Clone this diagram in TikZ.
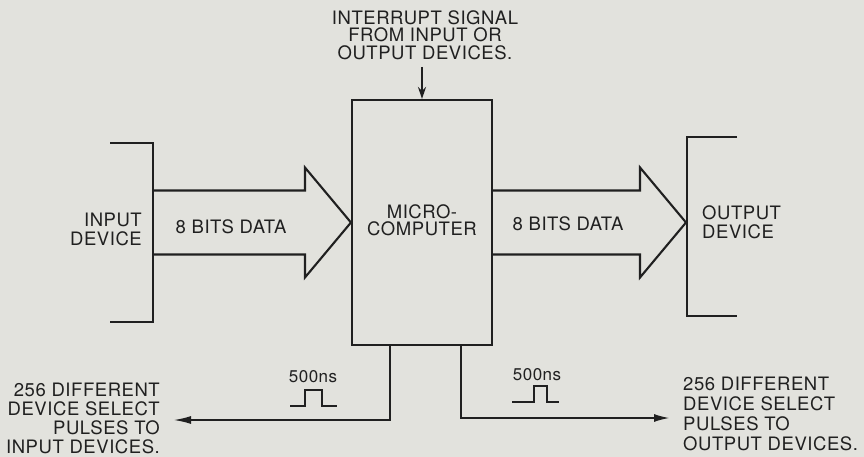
\documentclass[tikz,border=0pt]{standalone}
\usepackage{fontspec}
\setmainfont[LetterSpace=3]{TeX Gyre Heros}
\usetikzlibrary{arrows.meta,calc}
\definecolor{paper}{RGB}{226,226,221}
\definecolor{ink}{RGB}{32,32,32}
\begin{document}
\begin{tikzpicture}[x=1pt,y=-1pt,
  lbl/.style={font=\fontsize{18.5}{19}\selectfont, text=ink, inner sep=0pt},
  toplbl/.style={lbl, font=\fontsize{18.5}{17.5}\selectfont},
  botlbl/.style={lbl, font=\fontsize{18.5}{19}\selectfont},
  botrlbl/.style={lbl, font=\fontsize{18.5}{20}\selectfont},
  nslbl/.style={lbl, font=\fontsize{17}{17}\selectfont},
  wire/.style={draw=ink, line width=2.1pt},
  pulse/.style={draw=ink, line width=1.5pt},
  fat/.style={wire, line join=miter},
  mcbox/.style={draw=ink, line width=2.1pt, minimum width=140pt, minimum height=245pt,
    inner sep=0pt}]
\fill[paper] (0,0) rectangle (864,457);
\useasboundingbox (0,0) rectangle (864,457);

% microcomputer
\node[mcbox] (mc) at (422,222.5) {};
\node[lbl, align=center, font=\fontsize{18.5}{17.5}\selectfont] (mctext) at ($(mc.center)+(0,-2)$) {MICRO-\\COMPUTER};

% interrupt
\node[toplbl, align=center] (intr) at (425,35) {INTERRUPT SIGNAL\\FROM INPUT OR\\OUTPUT DEVICES.};
\coordinate (intrs) at (422,67);
\draw[wire, -{Stealth[length=12pt,width=8pt]}] (intrs) -- (mc.north);

% input device
\draw[wire] (110,143) -| (153,322) -- (110,322);
\coordinate (inb) at (153,222.5);
\node[lbl, align=right, anchor=east] (indev) at (142,229) {INPUT\\DEVICE};
\draw[fat] ($(inb)+(0,-32)$) -- ($(mc.west)+(-46,-32)$) -- ($(mc.west)+(-46,-55)$)
  -- (mc.west) -- ($(mc.west)+(-46,55)$) -- ($(mc.west)+(-46,32)$) -- ($(inb)+(0,32)$);
\node[lbl] (din) at (231,227) {8 BITS DATA};

% output device
\draw[wire] (737,137) -| (687,316) -- (737,316);
\coordinate (outb) at (686,222.5);
\draw[fat] ($(mc.east)+(0,-32)$) -- ($(outb)+(-46,-32)$) -- ($(outb)+(-46,-55)$)
  -- (outb) -- ($(outb)+(-46,55)$) -- ($(outb)+(-46,32)$) -- ($(mc.east)+(0,32)$);
\node[lbl] (dout) at (568,224) {8 BITS DATA};
\node[lbl, align=left, anchor=west] (outdev) at (702,222) {OUTPUT\\DEVICE};

% device select, input side
\node[botlbl, align=right, anchor=east] (inpl) at (160,418) {256 DIFFERENT\\DEVICE SELECT\\PULSES TO\\INPUT DEVICES.};
\coordinate (selL) at (173,420);
\draw[wire, -{Latex[length=18pt,width=8pt]}] ($(mc.south west)+(39,0)$) |- (selL);
\node[nslbl] (nsL) at (313,377) {500ns};
\draw[pulse] (290,406) -- (305,406) -- (305,390) -- (322,390) -- (322,406) -- (337,406);

% device select, output side
\node[botrlbl, align=left, anchor=west] (outpl) at (683,414) {256 DIFFERENT\\DEVICE SELECT\\PULSES TO\\OUTPUT DEVICES.};
\coordinate (selR) at (670,418);
\draw[wire, -{Latex[length=16pt,width=8pt]}] ($(mc.south west)+(110,0)$) |- (selR);
\node[nslbl] (nsR) at (537,375) {500ns};
\draw[pulse] (512,402) -- (534,402) -- (534,386) -- (547,386) -- (547,402) -- (559,402);
\end{tikzpicture}
\end{document}
